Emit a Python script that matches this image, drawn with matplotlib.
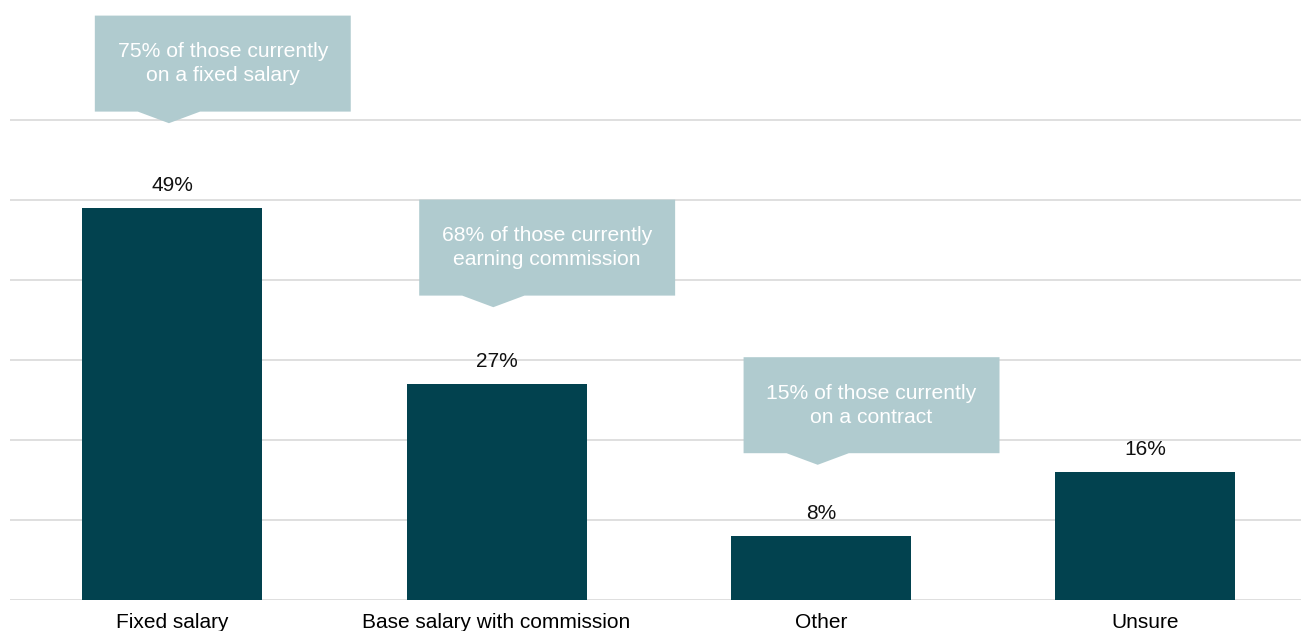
"""Preferred pay structure: bar chart with callout notes above three of the bars."""

import matplotlib
matplotlib.use("Agg")
import matplotlib.pyplot as plt
from matplotlib.patches import Polygon

plt.rcParams["font.family"] = ["Liberation Sans", "DejaVu Sans"]

categories = ["Fixed salary", "Base salary with commission", "Other", "Unsure"]
shares = [49, 27, 8, 16]
notes = [
    "75% of those currently\non a fixed salary",
    "68% of those currently\nearning commission",
    "15% of those currently\non a contract",
]

BAR = "#02424f"
NOTE_BG = "#b0cbcf"
GRID = "#d9d9d9"

# callout geometry (data units): tip height per note, box size, pointer size
NOTE_TIP_Y = [59.6, 36.6, 16.9]
BOX_W, BOX_H = 0.789, 12.0
BOX_SHIFT = 0.166
PTR_H, PTR_HALF = 1.45, 0.096


def callout(ax, x_tip, y_tip, text):
    cx = x_tip + BOX_SHIFT
    yb = y_tip + PTR_H
    pts = [
        (cx - BOX_W / 2, yb), (x_tip - PTR_HALF, yb), (x_tip, y_tip),
        (x_tip + PTR_HALF, yb), (cx + BOX_W / 2, yb),
        (cx + BOX_W / 2, yb + BOX_H), (cx - BOX_W / 2, yb + BOX_H),
    ]
    ax.add_patch(Polygon(pts, closed=True, facecolor=NOTE_BG, edgecolor="none",
                         zorder=4, clip_on=False))
    ax.text(cx, yb + BOX_H / 2, text, ha="center", va="center", color="white",
            fontsize=15.2, linespacing=1.35, zorder=5)


def main() -> None:
    fig = plt.figure(figsize=(13.01, 6.31), dpi=100)
    ax = fig.add_axes([10 / 1301, 31 / 631, 1297.5 / 1301, 600 / 631])

    x = list(range(len(categories)))
    ax.bar(x, shares, width=0.555, color=BAR, zorder=3)
    for xi, v in zip(x, shares):
        ax.annotate(f"{v}%", (xi, v), xytext=(0, 12), textcoords="offset points",
                    ha="center", va="baseline", fontsize=15, color="#111111")

    for xi, (yt, note) in enumerate(zip(NOTE_TIP_Y, notes)):
        callout(ax, xi - 0.01, yt, note)

    ax.set_xlim(-0.5, 3.5)
    ax.set_ylim(0, 75)
    ax.set_yticks(range(0, 61, 10))
    ax.yaxis.grid(True, color=GRID, lw=1.2, zorder=0)
    ax.tick_params(axis="y", left=False, labelleft=False)
    ax.tick_params(axis="x", length=0, pad=9, labelsize=15)
    ax.set_xticks(x, categories)
    for s in ax.spines.values():
        s.set_visible(False)

    fig.savefig("out.png", dpi=100)
    plt.close(fig)


if __name__ == "__main__":
    main()
